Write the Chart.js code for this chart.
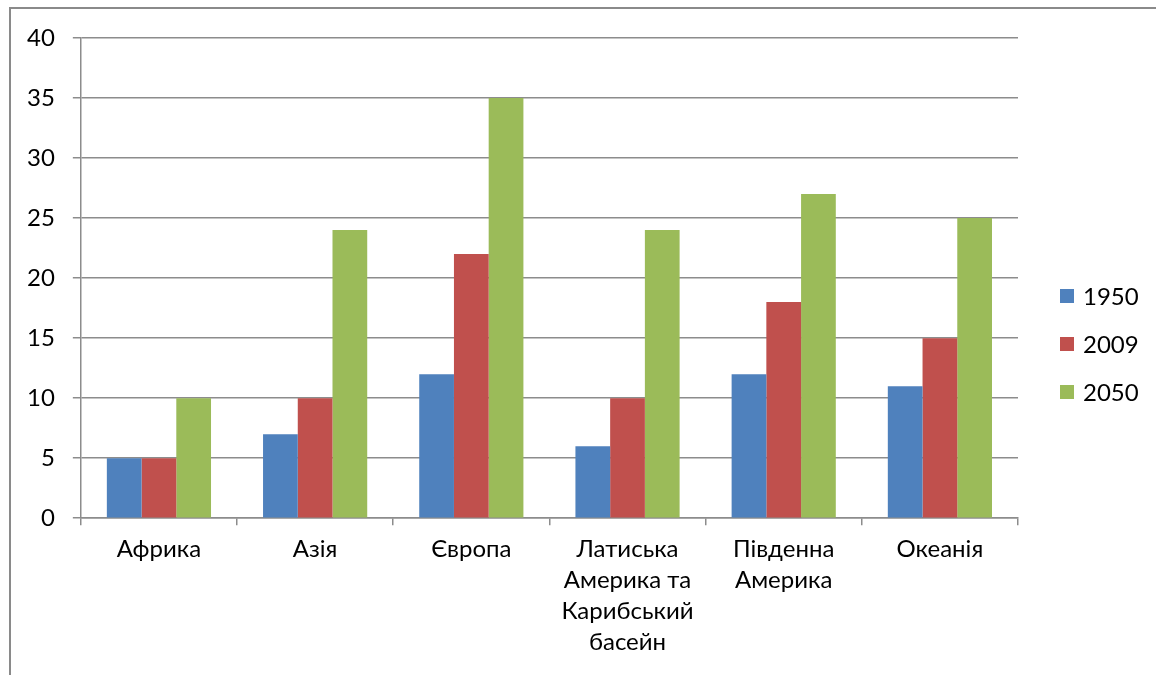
<!DOCTYPE html>
<html>
<head>
<meta charset="utf-8">
<script src="https://cdn.jsdelivr.net/npm/chart.js@4/dist/chart.umd.min.js"></script>
<style>
    html, body { margin: 0; padding: 0; background: #fff; }
    #frame {
        position: absolute;
        left: 9px; top: 7px;
        width: 1147px; height: 668px;
        border-left: 2px solid #8a8a8a;
        border-top: 2px solid #8a8a8a;
    }
    #chart { position: absolute; left: 0; top: 0; }
</style>
</head>
<body>
<div id="frame"></div>
<canvas id="chart" width="1156" height="675"></canvas>
<script>
const regions = [
    'Африка',
    'Азія',
    'Європа',
    ['Латиська', 'Америка та', 'Карибський', 'басейн'],
    ['Південна', 'Америка'],
    'Океанія'
]
const values1950 = [5, 7, 12, 6, 12, 11]
const values2009 = [5, 10, 22, 10, 18, 15]
const values2050 = [10, 24, 35, 24, 27, 25]

const fontFamily = 'Lato, "Open Sans", sans-serif'
Chart.defaults.font.family = fontFamily
Chart.defaults.font.size = 24
Chart.defaults.color = '#000'

const gridColor = '#8c8c8c'

// legend to the right of the plot, Excel style
const sideLegend = {
    id: 'sideLegend',
    afterDraw(chart, args, opts) {
        const {ctx, chartArea} = chart
        const x = chartArea.right + opts.offsetX
        ctx.save()
        ctx.font = `24px ${fontFamily}`
        ctx.textBaseline = 'middle'
        chart.data.datasets.forEach((ds, i) => {
            const y = opts.top + i * opts.spacing
            ctx.fillStyle = ds.backgroundColor
            ctx.fillRect(x, y - opts.box / 2, opts.box, opts.box)
            ctx.fillStyle = '#000'
            ctx.fillText(ds.label, x + opts.box + 9, y + 1)
        })
        ctx.restore()
    }
}

new Chart(document.getElementById('chart'), {
    type: 'bar',
    data: {
        labels: regions,
        datasets: [
            {label: '1950', data: values1950, backgroundColor: '#4F81BD'},
            {label: '2009', data: values2009, backgroundColor: '#C0504D'},
            {label: '2050', data: values2050, backgroundColor: '#9BBB59'}
        ]
    },
    options: {
        responsive: false,
        animation: false,
        devicePixelRatio: 1,
        layout: {padding: {left: 9, top: 38, right: 138, bottom: 9}},
        datasets: {
            bar: {categoryPercentage: 0.667, barPercentage: 1}
        },
        scales: {
            y: {
                min: 0,
                max: 40,
                ticks: {stepSize: 5, padding: 18},
                grid: {color: gridColor, lineWidth: 1.5, tickLength: 8},
                border: {color: gridColor, width: 1.5}
            },
            x: {
                ticks: {padding: 8, maxRotation: 0, autoSkip: false, font: {lineHeight: 1.3}},
                grid: {
                    offset: true,
                    drawOnChartArea: false,
                    color: gridColor,
                    lineWidth: 1.5,
                    tickLength: 7
                },
                border: {color: gridColor, width: 1.5}
            }
        },
        plugins: {
            legend: {display: false},
            tooltip: {enabled: false},
            sideLegend: {offsetX: 42, top: 296, spacing: 48, box: 14}
        }
    },
    plugins: [sideLegend]
})
</script>
</body>
</html>
